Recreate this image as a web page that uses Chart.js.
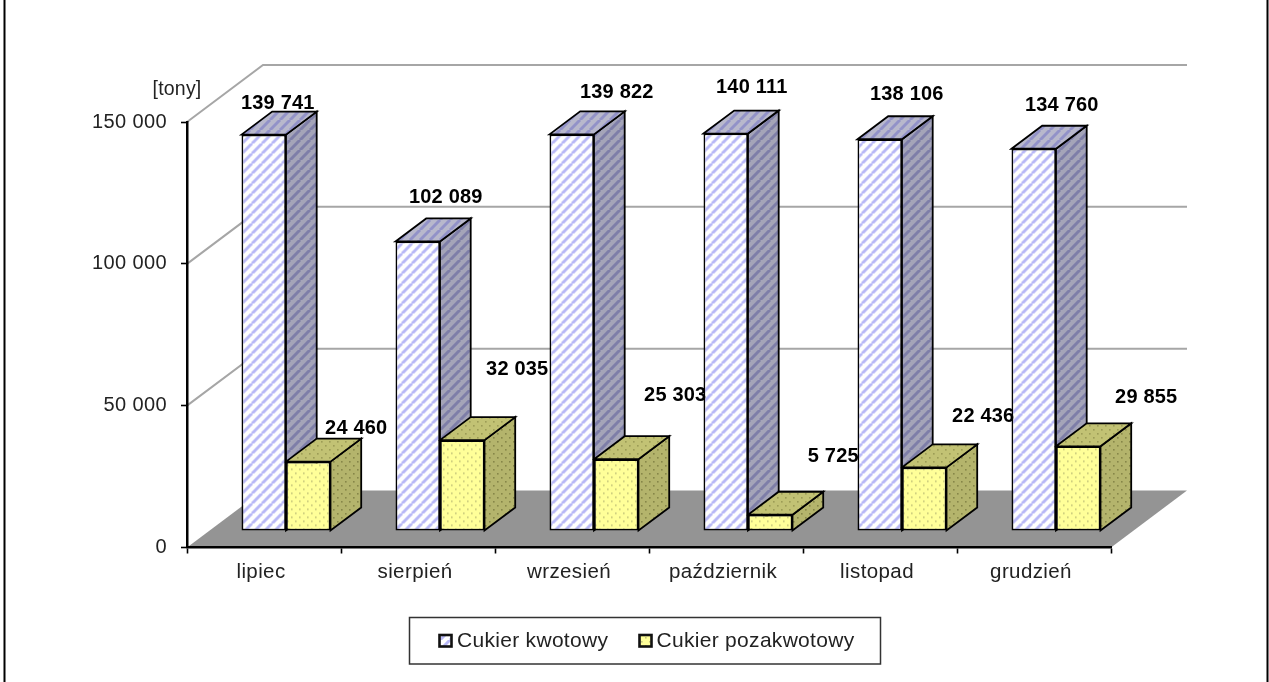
<!DOCTYPE html>
<html><head><meta charset="utf-8">
<style>html,body{margin:0;padding:0;background:#fff}canvas{display:block}</style>
<script src="https://cdn.jsdelivr.net/npm/chart.js@4/dist/chart.umd.min.js"></script>
</head><body><canvas id="c" width="1269" height="682"></canvas>
<script>
const categories = ['lipiec','sierpień','wrzesień','październik','listopad','grudzień'];
const cukierKwotowy = [139741,102089,139822,140111,138106,134760];
const cukierPozakwotowy = [24460,32035,25303,5725,22436,29855];
const seriesNames = ['Cukier kwotowy','Cukier pozakwotowy'];
const yTicks = [0,50000,100000,150000];
const unitLabel = '[tony]';
// hand-placed label shifts from the bar's top centre, as in the reference
const kwotowyLabelShift = [[14,-31],[28,-44],[45,-42],[26,-46],[27,-45],[28,-43]];
const pozaLabelShift = [[48,-33],[55,-71],[59,-64],[63,-58],[59,-51],[68,-49]];

const FONT='"Liberation Sans", Arial, sans-serif';
const WALL={dx:76,dy:-57}, GAP={dx:22,dy:-16.5}, DEPTH={dx:30.7,dy:-23};

function tile(size,base,fn){const t=document.createElement('canvas');t.width=t.height=size;const g=t.getContext('2d');
  g.fillStyle=base;g.fillRect(0,0,size,size);fn(g,size);return document.createElement('canvas').getContext('2d').createPattern(t,'repeat');}
function stripes(base,col,w){return tile(10,base,(g,s)=>{g.strokeStyle=col;g.lineWidth=w;
  for(let i=-s;i<=2*s;i+=s){g.beginPath();g.moveTo(i,s);g.lineTo(i+s,0);g.stroke();}});}
function dots(base,col){return tile(8,base,g=>{g.fillStyle=col;g.globalAlpha=.75;g.fillRect(1,1,1.6,1.6);g.fillRect(5,5,1.6,1.6);});}
const P={
  blueFront:stripes('#ffffff','#b8b8f6',3), blueSide:stripes('#a4a4b8','#7e7ea8',3), blueTop:stripes('#b8b8cc','#9292c8',3),
  yelFront:dots('#ffff99','#b0b070'), yelSide:dots('#b4b46c','#77773e'), yelTop:dots('#c2c274','#8f8f4c')
};
function poly(ctx,pts,fill,stroke,w){ctx.beginPath();pts.forEach((p,i)=>i?ctx.lineTo(p[0],p[1]):ctx.moveTo(p[0],p[1]));ctx.closePath();
  if(fill){ctx.fillStyle=fill;ctx.fill();}
  if(stroke){ctx.strokeStyle=stroke;ctx.lineWidth=w;ctx.lineJoin='miter';ctx.stroke();}}
function prism(ctx,el,side,top){
  const l=el.x-el.width/2+GAP.dx,r=el.x+el.width/2+GAP.dx,t=el.y+GAP.dy,b=el.base+GAP.dy,dx=DEPTH.dx,dy=DEPTH.dy;
  poly(ctx,[[r,t],[r+dx,t+dy],[r+dx,b+dy],[r,b]],side,'#000',1.8);
  poly(ctx,[[l,t],[l+dx,t+dy],[r+dx,t+dy],[r,t]],top,'#000',1.8);
}
const plugin3d={id:'plugin3d',
  beforeDraw(chart){
    const {ctx,chartArea:a,scales:{y}}=chart;
    ctx.letterSpacing='0.4px';
    ctx.save();
    ctx.strokeStyle='#000';ctx.lineWidth=2;
    ctx.beginPath();ctx.moveTo(4.5,0);ctx.lineTo(4.5,682);ctx.moveTo(1267.5,0);ctx.lineTo(1267.5,682);ctx.stroke();
    const y0=y.getPixelForValue(0);
    poly(ctx,[[a.left,y0],[a.right,y0],[a.right+WALL.dx,y0+WALL.dy],[a.left+WALL.dx,y0+WALL.dy]],'#949494');
    ctx.strokeStyle='#a6a6a6';ctx.lineWidth=2;
    yTicks.slice(1).forEach(v=>{const p=y.getPixelForValue(v);ctx.beginPath();ctx.moveTo(a.left,p);
      ctx.lineTo(a.left+WALL.dx,p+WALL.dy);ctx.lineTo(a.right+WALL.dx,p+WALL.dy);ctx.stroke();});
    ctx.restore();
  },
  beforeDatasetsDraw(chart){
    const ctx=chart.ctx,m0=chart.getDatasetMeta(0).data,m1=chart.getDatasetMeta(1).data;
    ctx.save();
    m0.forEach(el=>prism(ctx,el,P.blueSide,P.blueTop));
    m1.forEach(el=>prism(ctx,el,P.yelSide,P.yelTop));
    ctx.restore();
    ctx.save();ctx.translate(GAP.dx,GAP.dy);
  },
  afterDatasetsDraw(chart){
    const ctx=chart.ctx;ctx.restore();
    ctx.save();
    ctx.letterSpacing='0.2px';
    ctx.fillStyle='#000';ctx.font='bold 20px '+FONT;ctx.textAlign='center';ctx.textBaseline='middle';
    [kwotowyLabelShift,pozaLabelShift].forEach((shift,d)=>{
      chart.getDatasetMeta(d).data.forEach((el,i)=>{
        ctx.fillText(fmt(chart.data.datasets[d].data[i]),el.x+GAP.dx+shift[i][0],el.y+GAP.dy+shift[i][1]);
      });
    });
    ctx.letterSpacing='0.2px';
    ctx.font='19.5px '+FONT;ctx.fillStyle='#222';ctx.fillText(unitLabel,177,90);
    // legend
    ctx.strokeStyle='#333';ctx.lineWidth=1.5;ctx.fillStyle='#fff';
    ctx.fillRect(409.5,617.5,471,46.5);ctx.strokeRect(409.5,617.5,471,46.5);
    const sw=[[439.5,P.blueFront,457],[639.5,P.yelFront,656.5]];
    ctx.font='21px '+FONT;ctx.textAlign='left';ctx.letterSpacing='0.3px';
    sw.forEach((s,i)=>{
      ctx.fillStyle=s[1];ctx.fillRect(s[0],635,12,11.5);
      ctx.strokeStyle='#111';ctx.lineWidth=2.6;ctx.strokeRect(s[0],635,12,11.5);
      ctx.fillStyle='#222';ctx.fillText(chart.data.datasets[i].label,s[2],641);
    });
    ctx.restore();
  }
};
function fmt(v){return String(v).replace(/\B(?=(\d{3})+$)/g,' ');}
new Chart(document.getElementById('c'),{
  type:'bar',
  data:{labels:categories,datasets:[
    {label:seriesNames[0],data:cukierKwotowy,backgroundColor:P.blueFront,borderColor:'#000',borderWidth:1.8,borderSkipped:false},
    {label:seriesNames[1],data:cukierPozakwotowy,backgroundColor:P.yelFront,borderColor:'#000',borderWidth:1.8,borderSkipped:false}
  ]},
  options:{responsive:false,animation:false,devicePixelRatio:1,
    layout:{padding:{left:0,right:158,top:122,bottom:94.5}},
    datasets:{bar:{barPercentage:1,categoryPercentage:0.578,clip:false}},
    plugins:{legend:{display:false},title:{display:false},tooltip:{enabled:false}},
    scales:{
      x:{offset:true,afterFit(s){s.height=40;},
        grid:{offset:true,drawOnChartArea:false,drawTicks:true,tickLength:6,tickColor:'#000',tickWidth:1.6},
        border:{color:'#000',width:2.5},
        ticks:{color:'#222',font:{family:FONT,size:20.5},padding:7,maxRotation:0,autoSkip:false,labelOffset:-3}},
      y:{min:0,max:150000,afterFit(s){s.width=187;},
        afterBuildTicks(s){s.ticks=yTicks.map(v=>({value:v}));},
        grid:{drawOnChartArea:false,drawTicks:true,tickLength:6,tickColor:'#000',tickWidth:1.6},
        border:{color:'#000',width:2.5},
        ticks:{color:'#222',font:{family:FONT,size:20},padding:14,callback:v=>fmt(v)}}
    }
  },
  plugins:[plugin3d]
});
</script></body></html>
